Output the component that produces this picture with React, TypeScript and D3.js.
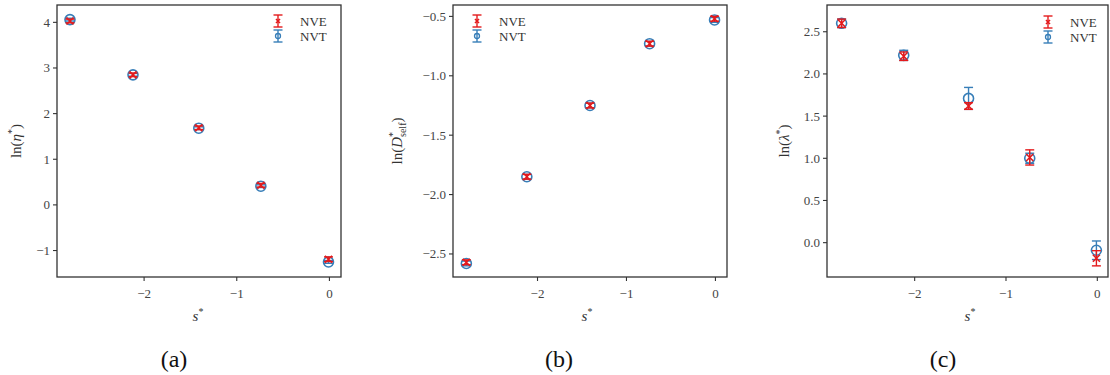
import React from 'react';
import * as d3 from 'd3';

const sValues = [-2.8, -2.12, -1.41, -0.74, -0.01];

const etaNVE = [4.03, 2.85, 1.69, 0.43, -1.19];
const etaNVEErr = [0.04, 0.04, 0.04, 0.04, 0.05];
const etaNVT = [4.06, 2.85, 1.68, 0.41, -1.25];
const etaNVTErr = [0.03, 0.03, 0.03, 0.03, 0.03];

const dNVE = [-2.57, -1.85, -1.25, -0.73, -0.52];
const dNVEErr = [0.02, 0.02, 0.02, 0.02, 0.02];
const dNVT = [-2.58, -1.85, -1.25, -0.73, -0.53];
const dNVTErr = [0.02, 0.02, 0.02, 0.02, 0.02];

const lamNVE = [2.6, 2.21, 1.62, 1.01, -0.185];
const lamNVEErr = [0.05, 0.05, 0.04, 0.09, 0.09];
const lamNVT = [2.6, 2.22, 1.71, 1.0, -0.09];
const lamNVTErr = [0.05, 0.06, 0.13, 0.06, 0.11];

const xTicks = [-2, -1, 0];
const etaTicks = [-1, 0, 1, 2, 3, 4];
const dTicks = [-2.5, -2.0, -1.5, -1.0, -0.5];
const lamTicks = [0.0, 0.5, 1.0, 1.5, 2.0, 2.5];

const RED = '#e41a1c';
const BLUE = '#377eb8';
const FONT = '"Liberation Serif", "DejaVu Serif", serif';
const minus = (s: string) => s.replace('-', '\u2212');

type PanelProps = {
  left: number; right: number; top: number; bottom: number;
  xDomain: [number, number]; yDomain: [number, number];
  yTicks: number[]; fmt: (v: number) => string;
  nve: number[]; nveErr: number[]; nvt: number[]; nvtErr: number[];
  yLabel: React.ReactNode; yLabelX: number;
  legend: { mx: number; y0: number };
  xLabelX: number; caption: string; captionX: number;
};

const ErrBar = ({ x, y0, y1, color }: { x: number; y0: number; y1: number; color: string }) => (
  <g stroke={color} strokeWidth={1.4}>
    <line x1={x} x2={x} y1={y0} y2={y1} />
    <line x1={x - 4.5} x2={x + 4.5} y1={y0} y2={y0} />
    <line x1={x - 4.5} x2={x + 4.5} y1={y1} y2={y1} />
  </g>
);

const XMark = ({ x, y, r }: { x: number; y: number; r: number }) => (
  <path d={`M${x - r},${y - r}L${x + r},${y + r}M${x - r},${y + r}L${x + r},${y - r}`} stroke={RED} strokeWidth={1.6} />
);

const Panel = (p: PanelProps) => {
  const x = d3.scaleLinear().domain(p.xDomain).range([p.left, p.right]);
  const y = d3.scaleLinear().domain(p.yDomain).range([p.bottom, p.top]);
  const lg = p.legend;
  return (
    <g fontFamily={FONT}>
      {/* NVT first, NVE on top */}
      {sValues.map((s, i) => (
        <g key={'t' + i}>
          <ErrBar x={x(s)} y0={y(p.nvt[i] + p.nvtErr[i])} y1={y(p.nvt[i] - p.nvtErr[i])} color={BLUE} />
          <circle cx={x(s)} cy={y(p.nvt[i])} r={5} fill="none" stroke={BLUE} strokeWidth={1.6} />
        </g>
      ))}
      {sValues.map((s, i) => (
        <g key={'e' + i}>
          <ErrBar x={x(s)} y0={y(p.nve[i] + p.nveErr[i])} y1={y(p.nve[i] - p.nveErr[i])} color={RED} />
          <XMark x={x(s)} y={y(p.nve[i])} r={3.5} />
        </g>
      ))}
      <rect x={p.left} y={p.top} width={p.right - p.left} height={p.bottom - p.top}
        fill="none" stroke="#333" strokeWidth={1.3} />
      {xTicks.map(t => (
        <g key={t}>
          <line x1={x(t)} x2={x(t)} y1={p.bottom} y2={p.bottom + 4} stroke="#333" strokeWidth={1.1} />
          <text x={x(t)} y={p.bottom + 21} textAnchor="middle" fontSize={13} fill="#444">{minus(String(t))}</text>
        </g>
      ))}
      {p.yTicks.map(t => (
        <g key={t}>
          <line x1={p.left - 4} x2={p.left} y1={y(t)} y2={y(t)} stroke="#333" strokeWidth={1.1} />
          <text x={p.left - 7} y={y(t) + 4.5} textAnchor="end" fontSize={13} fill="#444">{minus(p.fmt(t))}</text>
        </g>
      ))}
      <text transform={`translate(${p.yLabelX},${(p.top + p.bottom) / 2}) rotate(-90)`} textAnchor="middle"
        fontSize={15} fill="#333">{p.yLabel}</text>
      <text x={p.xLabelX} y={321} textAnchor="middle" fontSize={15} fill="#333">
        <tspan fontStyle="italic">s</tspan><tspan dy={-6} fontSize={10}>*</tspan>
      </text>
      <text x={p.captionX} y={367} textAnchor="middle" fontSize={24} fill="#111">{p.caption}</text>
      {/* legend */}
      <ErrBar x={lg.mx} y0={lg.y0 - 6} y1={lg.y0 + 6} color={RED} />
      <XMark x={lg.mx} y={lg.y0} r={2} />
      <text x={lg.mx + 22} y={lg.y0 + 4.5} fontSize={13} fill="#333">NVE</text>
      <ErrBar x={lg.mx} y0={lg.y0 + 9} y1={lg.y0 + 21} color={BLUE} />
      <circle cx={lg.mx} cy={lg.y0 + 15} r={2.5} fill="none" stroke={BLUE} strokeWidth={1.3} />
      <text x={lg.mx + 22} y={lg.y0 + 19.5} fontSize={13} fill="#333">NVT</text>
    </g>
  );
};

const f1 = d3.format('.1f');
const f0 = d3.format('d');

export default function App() {
  return (
    <svg width={1110} height={375} style={{ position: 'absolute', left: 0, top: 0, background: '#fff' }}>
      <Panel left={57} right={341} top={5} bottom={277} xDomain={[-2.94, 0.125]} yDomain={[-1.58, 4.38]}
        yTicks={etaTicks} fmt={f0} nve={etaNVE} nveErr={etaNVEErr} nvt={etaNVT} nvtErr={etaNVTErr}
        yLabel={<>ln(<tspan fontStyle="italic">η</tspan><tspan dy={-6} fontSize={10}>*</tspan><tspan dy={6}>)</tspan></>}
        yLabelX={21} legend={{ mx: 278, y0: 21 }} xLabelX={198} caption="(a)" captionX={174} />
      <Panel left={453} right={727} top={5} bottom={277} xDomain={[-2.95, 0.13]} yDomain={[-2.694, -0.404]}
        yTicks={dTicks} fmt={f1} nve={dNVE} nveErr={dNVEErr} nvt={dNVT} nvtErr={dNVTErr}
        yLabel={<>ln(<tspan fontStyle="italic">D</tspan><tspan dy={-6} fontSize={10}>*</tspan><tspan dx={-5} dy={10} fontSize={10}>self</tspan><tspan dy={-4}>)</tspan></>}
        yLabelX={402} legend={{ mx: 477, y0: 21 }} xLabelX={587} caption="(b)" captionX={559} />
      <Panel left={827} right={1108} top={5} bottom={277} xDomain={[-2.96, 0.117]} yDomain={[-0.407, 2.817]}
        yTicks={lamTicks} fmt={f1} nve={lamNVE} nveErr={lamNVEErr} nvt={lamNVT} nvtErr={lamNVTErr}
        yLabel={<>ln(<tspan fontStyle="italic">λ</tspan><tspan dy={-6} fontSize={10}>*</tspan><tspan dy={6}>)</tspan></>}
        yLabelX={789} legend={{ mx: 1048, y0: 22 }} xLabelX={970} caption="(c)" captionX={943} />
    </svg>
  );
}
